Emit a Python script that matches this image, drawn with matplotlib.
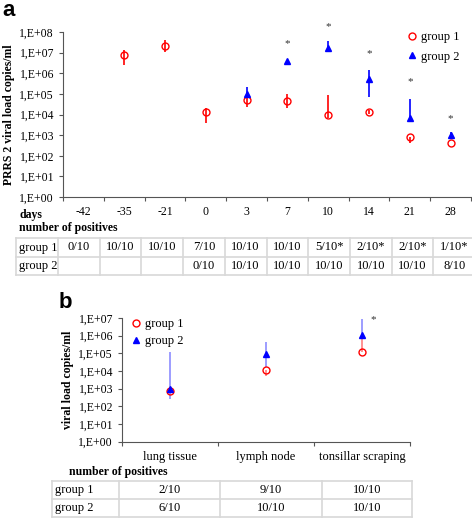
import numpy as np
import matplotlib
matplotlib.use("Agg")
import matplotlib.pyplot as plt
from matplotlib.lines import Line2D

plt.rcParams['font.family'] = ['Liberation Serif', 'DejaVu Serif']
plt.rcParams['font.size'] = 8.5

nan = np.nan

# panel a: blood viral load by day
days = ['-42', '-35', '-21', '0', '3', '7', '10', '14', '21', '28']
g1_a = [nan, 7.8e6, 2.0e7, 1.3e4, 5.0e4, 4.5e4, 9.5e3, 1.35e4, 8.5e2, 4.2e2]
g1_a_hi = [nan, 1.3e7, 4.2e7, 2.0e4, 9.0e4, 1.0e5, 9.0e4, 1.6e4, 8.5e2, 4.2e2]
g1_a_lo = [nan, 2.5e6, 1.1e7, 4.0e3, 2.3e4, 2.0e4, 6.5e3, 1.1e4, 4.2e2, 4.2e2]
g2_a = [nan, nan, nan, nan, 9.6e4, 3.9e6, 1.6e7, 5.0e5, 6.6e3, 1.05e3]
g2_a_hi = [nan, nan, nan, nan, 2.2e5, 3.9e6, 3.5e7, 1.4e6, 5.8e4, 1.35e3]
g2_a_lo = [nan, nan, nan, nan, 9.6e4, 3.9e6, 1.6e7, 7.4e4, 6.6e3, 1.05e3]
star_a = [nan, nan, nan, nan, nan, 2.6e7, 1.9e8, 8.7e6, 4.0e5, 6.6e3]
pos_g1_a = ['0/10', '10/10', '10/10', '7/10', '10/10', '10/10', '5/10*', '2/10*', '2/10*', '1/10*']
pos_g2_a = ['', '', '', '0/10', '10/10', '10/10', '10/10', '10/10', '10/10', '8/10']

# panel b: tissues
tissues = ['lung tissue', 'lymph node', 'tonsillar scraping']
g1_b = [7.2e2, 1.07e4, 1.2e5]
g1_b_hi = [7.2e2, 1.07e4, 1.0e6]
g1_b_lo = [7.2e2, 5.0e3, 1.2e5]
g2_b = [1.0e3, 9.6e4, 1.05e6]
g2_b_hi = [1.15e5, 4.4e5, 9.3e6]
g2_b_lo = [2.5e2, 1.6e4, 1.05e6]
star_b = [nan, nan, 8.0e6]
pos_g1_b = ['2/10', '9/10', '10/10']
pos_g2_b = ['6/10', '10/10', '10/10']

W, H = 472, 518
fig = plt.figure(figsize=(W / 100, H / 100), dpi=100)

def ax_px(l, t, r, b):
    return fig.add_axes([l / W, 1 - b / H, (r - l) / W, (b - t) / H])

def yerr(v, lo, hi):
    v, lo, hi = np.array(v), np.array(lo), np.array(hi)
    return [v - lo, hi - v]

def style(ax, n, top):
    ax.set_yscale('log')
    ax.set_ylim(1, top)
    ax.set_xlim(-0.5, n - 0.5)
    ax.spines['top'].set_visible(False)
    ax.spines['right'].set_visible(False)
    ax.spines['left'].set_color('#555555')
    ax.spines['bottom'].set_color('#555555')
    ax.yaxis.set_minor_locator(matplotlib.ticker.NullLocator())
    ax.set_yticks([10.0 ** k for k in range(int(np.log10(top)) + 1)])
    ax.set_yticklabels(['1,E+%02d' % k for k in range(int(np.log10(top)) + 1)])
    ax.set_xticks(np.arange(n + 1) - 0.5)
    ax.set_xticklabels([])
    ax.tick_params(axis='both', direction='out', length=3, color='#555555', labelsize=8.5)

def draw_series(ax, x, g1, g1_lo, g1_hi, g2, g2_lo, g2_hi, red_err, blue_err):
    ax.errorbar(x, g1, yerr=yerr(g1, g1_lo, g1_hi), fmt='none', ecolor=red_err,
                elinewidth=1.2, capsize=0, zorder=2)
    ax.errorbar(x, g2, yerr=yerr(g2, g2_lo, g2_hi), fmt='none', ecolor=blue_err,
                elinewidth=1.2, capsize=0, zorder=2)
    ax.plot(x, g1, 'o', mfc='none', mec='red', ms=5, mew=1, zorder=3)
    ax.plot(x, g2, '^', mfc='blue', mec='blue', ms=4.5, zorder=4)

handles = [Line2D([], [], ls='none', marker='o', mfc='none', mec='red', ms=5, mew=1),
           Line2D([], [], ls='none', marker='^', mfc='blue', mec='blue', ms=4.5)]

# ---- panel a
ax = ax_px(63, 32, 471, 197)
x = np.arange(len(days))
style(ax, len(days), 1e8)
draw_series(ax, x, g1_a, g1_a_lo, g1_a_hi, g2_a, g2_a_lo, g2_a_hi, 'red', 'blue')
for xi, s in zip(x, star_a):
    if not np.isnan(s):
        ax.text(xi, s, '*', ha='center', va='center', fontsize=8, color='#333333', clip_on=False)
for xi, d in zip(x, days):
    ax.text(xi, -0.09, d, transform=ax.get_xaxis_transform(), ha='center', va='center')
ax.set_ylabel('PRRS 2 viral load copies/ml', fontweight='bold', labelpad=3)
ax.legend(handles, ['group 1', 'group 2'], loc='upper right', bbox_to_anchor=(0.99, 1.05),
          frameon=False, handletextpad=0.2, handlelength=1.0, borderaxespad=0.2,
          labelspacing=0.6, fontsize=9)

# ---- panel b
bx = ax_px(122, 318, 410, 441.7)
xb = np.arange(len(tissues))
style(bx, len(tissues), 1e7)
draw_series(bx, xb, g1_b, g1_b_lo, g1_b_hi, g2_b, g2_b_lo, g2_b_hi,
            (1, 0, 0, 0.5), (0, 0, 1, 0.45))
for xi, s in zip(xb, star_b):
    if not np.isnan(s):
        bx.text(xi + 0.12, s, '*', ha='center', va='center', fontsize=8, color='#333333')
for xi, t in zip(xb, tissues):
    bx.text(xi, -0.125, t, transform=bx.get_xaxis_transform(), ha='center', va='center', fontsize=9)
bx.set_ylabel('viral load copies/ml', fontweight='bold', labelpad=3)
bx.legend(handles, ['group 1', 'group 2'], loc='upper left', bbox_to_anchor=(0.0, 1.06),
          frameon=False, handletextpad=0.25, handlelength=1.0, borderaxespad=0.2,
          labelspacing=0.4, fontsize=9)

# ---- overlay in pixel coordinates for labels and tables
ov = fig.add_axes([0, 0, 1, 1], zorder=-1)
ov.set_xlim(0, W)
ov.set_ylim(H, 0)
ov.axis('off')

ov.text(2, 10, 'a', fontsize=16, fontweight='bold', family='Liberation Sans', va='center')
ov.text(59, 302, 'b', fontsize=16, fontweight='bold', family='Liberation Sans', va='center')
ov.text(19, 215, 'days', fontweight='bold', va='center')
ov.text(19, 228, 'number of positives', fontweight='bold', va='center')
ov.text(69, 472, 'number of positives', fontweight='bold', va='center')

grid = '#d8d8d8'

def draw_table(cols, rows_y, labels, cells):
    for yy in rows_y:
        ov.plot([cols[0], cols[-1]], [yy, yy], color=grid, lw=1.2)
    for xx in cols:
        ov.plot([xx, xx], [rows_y[0], rows_y[-1]], color=grid, lw=1.2)
    for r, (lab, row) in enumerate(zip(labels, cells)):
        ym = (rows_y[r] + rows_y[r + 1]) / 2
        ov.text(cols[0] + 3, ym, lab, va='center', ha='left', fontsize=9)
        for c, txt in enumerate(row):
            ov.text((cols[c + 1] + cols[c + 2]) / 2, ym, txt, va='center', ha='center', fontsize=9)

cols_a = [16] + [58 + 41.7 * k for k in range(11)]
draw_table(cols_a, [238, 257, 275], ['group 1', 'group 2'], [pos_g1_a, pos_g2_a])
draw_table([52, 119, 220, 322, 412], [481, 499, 517], ['group 1', 'group 2'], [pos_g1_b, pos_g2_b])

fig.savefig('out.png', dpi=100)
